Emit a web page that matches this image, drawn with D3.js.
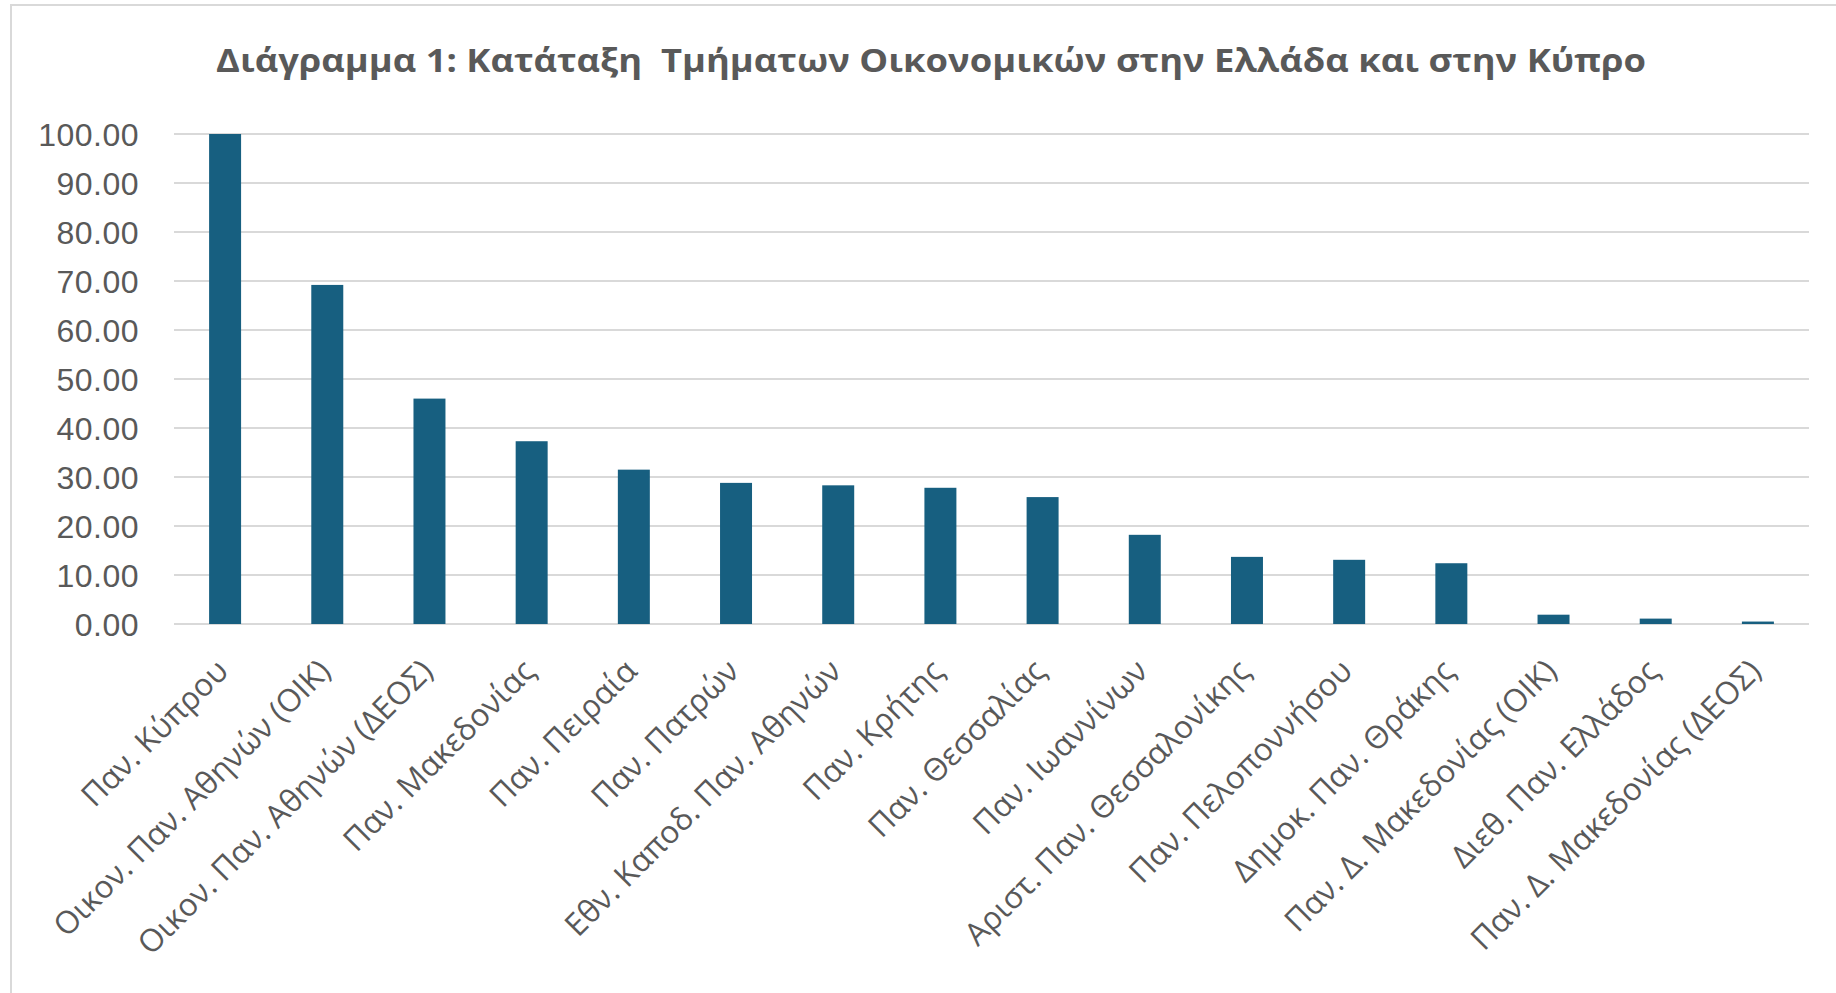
<html>
<head>
<meta charset="utf-8">
<script src="https://d3js.org/d3.v7.min.js"></script>
<style>
    body { margin: 0; background: #fff; }
</style>
</head>
<body>
<div class="chart"></div>
<script>
    // values
    let categories = [
        "Παν. Κύπρου",
        "Οικον. Παν. Αθηνών (ΟΙΚ)",
        "Οικον. Παν. Αθηνών (ΔΕΟΣ)",
        "Παν. Μακεδονίας",
        "Παν. Πειραία",
        "Παν. Πατρών",
        "Εθν. Καποδ. Παν. Αθηνών",
        "Παν. Κρήτης",
        "Παν. Θεσσαλίας",
        "Παν. Ιωαννίνων",
        "Αριστ. Παν. Θεσσαλονίκης",
        "Παν. Πελοποννήσου",
        "Δημοκ. Παν. Θράκης",
        "Παν. Δ. Μακεδονίας (ΟΙΚ)",
        "Διεθ. Παν. Ελλάδος",
        "Παν. Δ. Μακεδονίας (ΔΕΟΣ)"
    ];
    let scores = [100.00, 69.2, 46.0, 37.3, 31.5, 28.8, 28.3, 27.8, 25.9, 18.2, 13.7, 13.1, 12.4, 1.9, 1.1, 0.5];
    let yTicks = [0, 10, 20, 30, 40, 50, 60, 70, 80, 90, 100];
    let titleText = "Διάγραμμα 1: Κατάταξη  Τμήματων Οικονομικών στην Ελλάδα και στην Κύπρο";

    let width = 1836, height = 993;
    let plot = {left: 174, right: 1809, top: 134, bottom: 624};
    let grey = "#595959";

    let svg = d3.select(".chart").append("svg")
        .attr("width", width)
        .attr("height", height);

    // outer chart frame
    svg.append("rect")
        .attr("x", 11).attr("y", 5)
        .attr("width", width).attr("height", height)
        .attr("fill", "none")
        .attr("stroke", "#d9d9d9")
        .attr("stroke-width", 2);

    svg.append("text")
        .attr("x", 216)
        .attr("y", 72)
        .attr("font-family", "'Open Sans', 'Noto Sans', sans-serif")
        .attr("font-weight", "bold")
        .attr("font-size", 33)
        .attr("fill", grey)
        .attr("textLength", 1430)
        .attr("lengthAdjust", "spacingAndGlyphs")
        .style("white-space", "pre")
        .text(titleText);

    let x = d3.scaleBand()
        .domain(categories)
        .range([plot.left, plot.right])
        .paddingInner(0.687)
        .paddingOuter(0.3435);

    let y = d3.scaleLinear()
        .domain([0, 100])
        .range([plot.bottom, plot.top]);

    // gridlines
    svg.append("g").selectAll("line")
        .data(yTicks)
        .enter().append("line")
        .attr("x1", plot.left).attr("x2", plot.right)
        .attr("y1", d => y(d)).attr("y2", d => y(d))
        .attr("stroke", "#d9d9d9")
        .attr("stroke-width", 2);

    // y tick labels
    svg.append("g").selectAll("text")
        .data(yTicks)
        .enter().append("text")
        .attr("x", 139)
        .attr("y", d => y(d))
        .attr("dy", "0.36em")
        .attr("text-anchor", "end")
        .attr("font-family", "'Liberation Sans', Arial, sans-serif")
        .attr("font-size", 32)
        .attr("letter-spacing", 0.5)
        .attr("fill", grey)
        .text(d => d3.format(".2f")(d));

    // bars
    svg.append("g").selectAll("rect")
        .data(scores)
        .enter().append("rect")
        .attr("x", (d, i) => x(categories[i]))
        .attr("y", d => y(d))
        .attr("width", x.bandwidth())
        .attr("height", d => y(0) - y(d))
        .attr("fill", "#175f80");

    // category labels
    svg.append("g").selectAll("text")
        .data(categories)
        .enter().append("text")
        .attr("font-family", "'Open Sans', 'Noto Sans', sans-serif")
        .attr("font-size", 31.5)
        .attr("fill", grey)
        .attr("text-anchor", "end")
        .attr("transform", d => `translate(${x(d) + x.bandwidth() / 2 + 5}, 673) rotate(-45)`)
        .text(d => d);
</script>
</body>
</html>
